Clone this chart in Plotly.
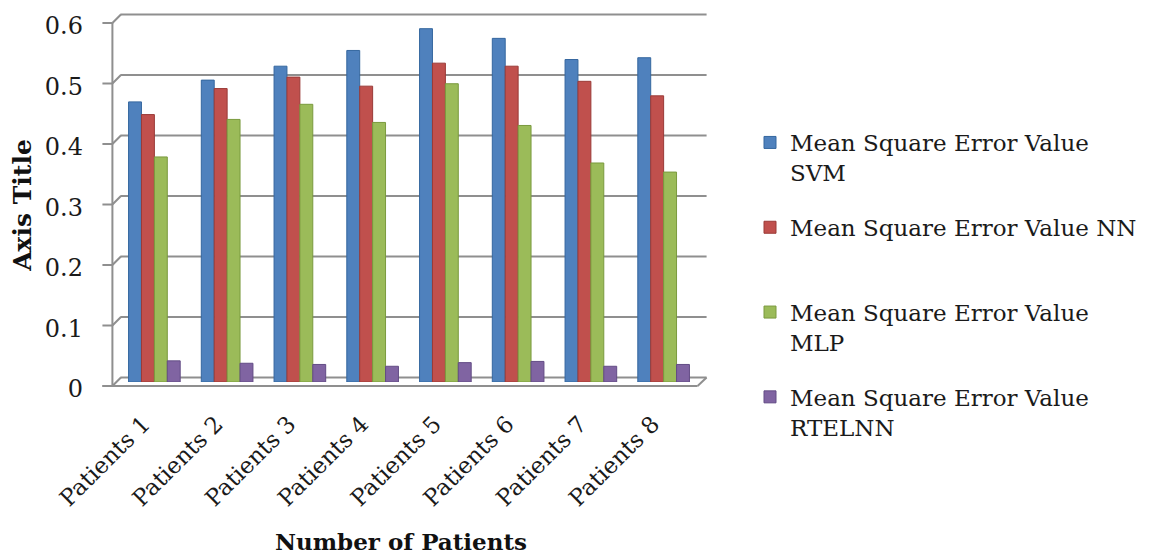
import plotly.graph_objects as go

categories = ["Patients 1", "Patients 2", "Patients 3", "Patients 4",
              "Patients 5", "Patients 6", "Patients 7", "Patients 8"]
svm = [0.463, 0.499, 0.522, 0.548, 0.584, 0.568, 0.533, 0.536]
nn = [0.442, 0.485, 0.504, 0.489, 0.527, 0.522, 0.497, 0.473]
mlp = [0.372, 0.434, 0.459, 0.429, 0.493, 0.424, 0.362, 0.347]
rtelnn = [0.035, 0.031, 0.029, 0.026, 0.032, 0.034, 0.026, 0.029]
y_ticks = [0, 0.1, 0.2, 0.3, 0.4, 0.5, 0.6]

series_names = ["Mean Square Error Value<br>SVM",
                "Mean Square Error Value NN<br> ",
                "Mean Square Error Value<br>MLP",
                "Mean Square Error Value<br>RTELNN"]
series_values = [svm, nn, mlp, rtelnn]
colors = ["#4F81BD", "#C0504D", "#9BBB59", "#8064A2"]
edges = ["#35679F", "#9A3A37", "#7A9A3E", "#634C85"]

FONT = "DejaVu Serif"
GRID = "#8f8f8f"
YMIN, YMAX = 0, 0.6

fig = go.Figure()
for i, (name, vals, c, e) in enumerate(zip(series_names, series_values, colors, edges)):
    fig.add_trace(go.Bar(x=categories, y=vals, name=name, legendgroup=f"g{i}",
                         marker=dict(color=c, line=dict(color=e, width=1))))

# page is offset by the 8px body margin
OFF = 8
W, H = 1150 - OFF, 555 - OFF
L, R = 117.6 - OFF, 700.4 - OFF
T, B = 18.7 - OFF, 381.7 - OFF
PW, PH = R - L, B - T


def px(xpage):
    return (xpage - 117.6) / PW


def py(v, off=0.0):
    return (v - YMIN) / (YMAX - YMIN) + off / PH


shapes = []
line = dict(color=GRID, width=2)


def seg(x0, y0, x1, y1):
    shapes.append(dict(type="line", xref="paper", yref="paper",
                       x0=x0, y0=y0, x1=x1, y1=y1, line=line, layer="below"))


BACK, FRONT = 4.5, -4
for v in y_ticks:
    seg(px(120), py(v, BACK), px(707), py(v, BACK))      # back-wall gridline
    seg(px(102), py(v, FRONT), px(112), py(v, FRONT))    # front tick
    seg(px(112), py(v, FRONT), px(120.5), py(v, BACK))   # diagonal to wall
seg(px(112), py(YMIN, FRONT), px(112), py(YMAX, FRONT))  # front wall edge
seg(px(102), py(YMIN, FRONT), px(698), py(YMIN, FRONT))  # floor front edge
seg(px(698), py(YMIN, FRONT), px(707), py(YMIN, BACK))   # floor right diagonal

annotations = [
    dict(text="<b>Number of Patients</b>", xref="paper", yref="paper",
         x=px(401), y=(381.7 - 541) / PH, xanchor="center", yanchor="middle",
         showarrow=False, font=dict(family=FONT, size=23, color="#111111")),
    dict(text="<b>Axis Title</b>", xref="paper", yref="paper",
         x=px(22), y=(381.7 - 205) / PH, xanchor="center", yanchor="middle",
         textangle=-90, showarrow=False,
         font=dict(family=FONT, size=25, color="#111111")),
]

fig.update_layout(
    width=W, height=H,
    margin=dict(l=L, r=W - R, t=T, b=H - B, pad=0, autoexpand=False),
    paper_bgcolor="white", plot_bgcolor="white",
    barmode="group", bargap=0.29, bargroupgap=0.0,
    font=dict(family=FONT, color="#1a1a1a", size=20),
    legend=dict(xref="container", yref="container", x=742 / W, y=1 - 113 / H,
                xanchor="left", yanchor="top", valign="top", maxheight=420,
                font=dict(family=FONT, size=23, color="#1a1a1a"),
                tracegroupgap=22, itemwidth=30),
    xaxis=dict(range=[-0.5, 7.5], tickangle=-45, showgrid=False, automargin=False,
               showline=False, ticks="", ticklabelstandoff=23, ticklabelshift=-11,
               tickfont=dict(family=FONT, size=23, color="#1a1a1a")),
    yaxis=dict(range=[YMIN, YMAX], tickvals=y_ticks, ticktext=[f"{v:g}" for v in y_ticks],
               showgrid=False, automargin=False, ticks="", ticklabelstandoff=34,
               ticklabelshift=7, ticklabeloverflow="allow",
               tickfont=dict(family=FONT, size=24, color="#1a1a1a"),
               zeroline=False, showline=False),
    shapes=shapes, annotations=annotations,
)

fig.write_html("out.html")
